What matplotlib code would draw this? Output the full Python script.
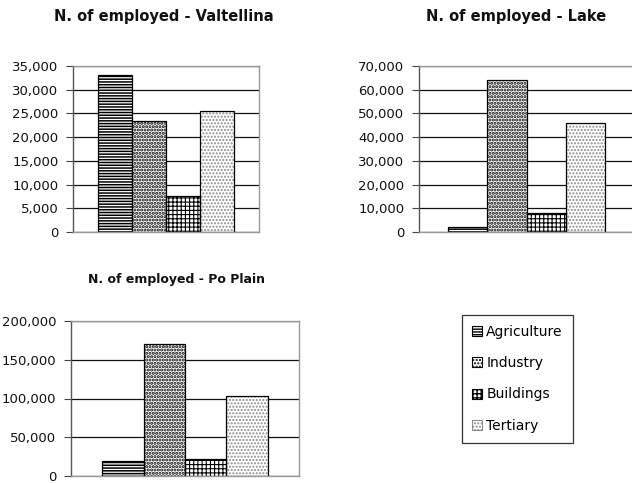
import numpy as np
import matplotlib
matplotlib.use('Agg')
import matplotlib.pyplot as plt
import matplotlib.patches as mpatches
from matplotlib.ticker import FuncFormatter

sectors = ['Agriculture', 'Industry', 'Buildings', 'Tertiary']
valtellina = [33000, 23500, 7500, 25500]
lake = [2000, 64200, 8000, 46000]
po_plain = [20000, 170000, 22000, 103000]

hatches = ['------', '.....', '++++', '.....']
hatch_colors = ['black', 'black', 'black', '#8a8a8a']
hatch_lws = [1.1, 1.5, 0.8, 1.0]

plt.rcParams['font.family'] = ['DejaVu Sans']
plt.rcParams['hatch.linewidth'] = 1.0

fig = plt.figure(figsize=(6.32, 4.83), dpi=100)
W, H = 632.0, 483.0


def px_axes(left, right, top, bottom):
    return fig.add_axes([left / W, 1 - bottom / H, (right - left) / W, (bottom - top) / H])


def set_hlw(patch, lw):
    if hasattr(patch, 'set_hatch_linewidth'):
        patch.set_hatch_linewidth(lw)


def draw_panel(ax, values, ymax, step, title, tx, ty, tsize):
    offsets = np.arange(len(values)) - (len(values) - 1) / 2
    for i, v in enumerate(values):
        with plt.rc_context({'hatch.linewidth': hatch_lws[i]}):
            bars = ax.bar(offsets[i], v, width=1.0, color='white', edgecolor=hatch_colors[i],
                          hatch=hatches[i], linewidth=0, zorder=2)
        for b in bars:
            set_hlw(b, hatch_lws[i])
        ax.bar(offsets[i], v, width=1.0, fill=False, edgecolor='black',
               linewidth=0.9, zorder=3)
    ax.set_xlim(-2.75, 2.75)
    ax.set_ylim(0, ymax)
    ax.set_yticks(np.arange(0, ymax + 1, step))
    ax.yaxis.set_major_formatter(FuncFormatter(lambda y, _: f'{y:,.0f}'))
    ax.set_xticks([])
    ax.tick_params(axis='y', direction='out', length=5, width=0.8, color='#444',
                   labelsize=9.5, labelcolor='#111', pad=5.5)
    ax.set_axisbelow(True)
    ax.yaxis.grid(True, color='#111', linewidth=0.9)
    for name, sp in ax.spines.items():
        sp.set_color('#999999')
        sp.set_linewidth(1.0)
        sp.set_zorder(4)
    ax.spines['left'].set_color('#555555')
    fig.text(tx / W, 1 - ty / H, title, ha='center', va='center',
             fontsize=tsize, fontweight='bold', color='#111')


ax1 = px_axes(73, 259, 66, 232)
draw_panel(ax1, valtellina, 35000, 5000, 'N. of employed - Valtellina', 164, 17, 10.5)

ax2 = px_axes(419, 634, 66, 232)
draw_panel(ax2, lake, 70000, 10000, 'N. of employed - Lake', 516, 16, 10.5)

ax3 = px_axes(71, 299, 321, 476)
draw_panel(ax3, po_plain, 200000, 50000, 'N. of employed - Po Plain', 176, 280, 9)

handles = []
for i, s in enumerate(sectors):
    with plt.rc_context({'hatch.linewidth': hatch_lws[i]}):
        p = mpatches.Patch(facecolor='white', edgecolor=hatch_colors[i] if i == 3 else 'black',
                           hatch=hatches[i], linewidth=0.8, label=s)
    set_hlw(p, hatch_lws[i])
    handles.append(p)

leg = fig.legend(handles=handles, loc='upper left',
                 bbox_to_anchor=(462 / W, 1 - 315 / H), fontsize=10,
                 frameon=True, fancybox=False, edgecolor='black',
                 handlelength=0.75, handleheight=0.75, handletextpad=0.3,
                 labelspacing=1.25, borderpad=0.7, borderaxespad=0)
leg.get_frame().set_linewidth(0.9)

fig.savefig('out.png', dpi=100)
